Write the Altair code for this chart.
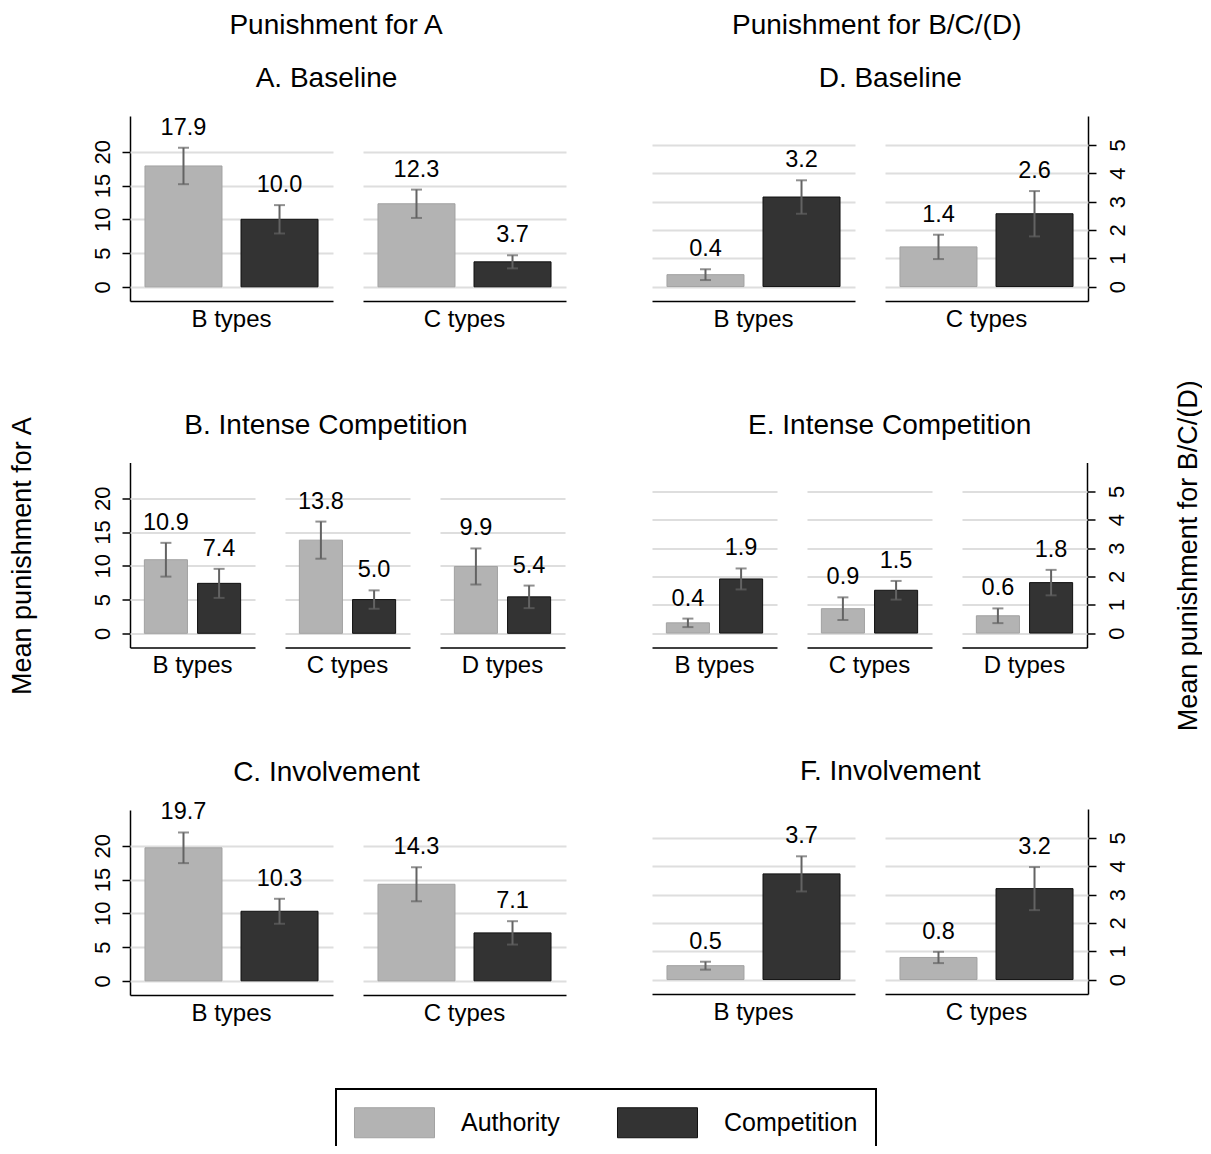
import altair as alt
import pandas as pd

# ---------------- data ----------------
groups = ["Authority", "Competition"]
column_titles = ["Punishment for A", "Punishment for B/C/(D)"]
y_titles = ["Mean punishment for A", "Mean punishment for B/C/(D)"]
panel_ids = ["A", "B", "C", "D", "E", "F"]
panel_titles = ["A. Baseline", "B. Intense Competition", "C. Involvement",
                "D. Baseline", "E. Intense Competition", "F. Involvement"]
panel_types = [["B types", "C types"],
               ["B types", "C types", "D types"],
               ["B types", "C types"],
               ["B types", "C types"],
               ["B types", "C types", "D types"],
               ["B types", "C types"]]
authority_mean = [[17.9, 12.3], [10.9, 13.8, 9.9], [19.7, 14.3],
                  [0.42, 1.40], [0.36, 0.86, 0.61], [0.49, 0.78]]
authority_ci = [[2.7, 2.1], [2.5, 2.75, 2.67], [2.27, 2.52],
                [0.19, 0.43], [0.15, 0.40, 0.26], [0.14, 0.20]]
competition_mean = [[10.0, 3.7], [7.4, 5.0, 5.4], [10.3, 7.1],
                    [3.16, 2.57], [1.91, 1.51, 1.78], [3.73, 3.21]]
competition_ci = [[2.1, 0.97], [2.15, 1.36, 1.67], [1.85, 1.73],
                  [0.59, 0.80], [0.37, 0.33, 0.45], [0.62, 0.76]]
left_ticks = [0, 5, 10, 15, 20]
right_ticks = [0, 1, 2, 3, 4, 5]

rows = []
for i, pid in enumerate(panel_ids):
    for j, t in enumerate(panel_types[i]):
        for g, means, cis in ((groups[0], authority_mean, authority_ci),
                              (groups[1], competition_mean, competition_ci)):
            m = means[i][j]
            c = cis[i][j]
            rows.append(dict(panel=pid, type=t, group=g, mean=m, lo=m - c, hi=m + c))
df = pd.DataFrame(rows)

# ---------------- style ----------------
FONT = "Liberation Sans"
FILLS = ["#b3b3b3", "#333333"]
STROKES = ["#a2a2a2", "#111111"]
ERR = "#636363"
PLOT_H = 185
# title offset per panel (panel C's top value label rises above the plot area)
TITLE_OFFSET = {"A": 1, "B": 1, "C": -8.5, "D": 1, "E": 1, "F": 1}


def make_panel(i):
    pid = panel_ids[i]
    side = "left" if i < 3 else "right"
    ncol = len(panel_types[i])
    cell_w = 203 if ncol == 2 else 125
    p_in, p_out = (0.198, 0.156) if ncol == 2 else (0.19, 0.27)
    dom = [-2.1, 25.3] if side == "left" else [-0.51, 6.02]
    ticks = left_ticks if side == "left" else right_ticks

    xenc = alt.X("group:N", sort=groups, title=None,
                 scale=alt.Scale(domain=groups, paddingInner=p_in, paddingOuter=p_out),
                 axis=alt.Axis(labels=False, ticks=False, grid=False,
                               domainColor="black", domainWidth=1.5))
    yaxis = alt.Axis(orient=side, values=ticks, labelAngle=270, labelFontSize=22,
                     labelColor="black", labelPadding=8 if side == "left" else 11.5,
                     tickSize=8, tickWidth=1.5, tickColor="black",
                     domainColor="black", domainWidth=1.5,
                     grid=True, gridColor="#dedede", gridWidth=2)
    yscale = alt.Scale(domain=dom, nice=False, zero=False)

    def Y(f):
        return alt.Y(f + ":Q", scale=yscale, axis=yaxis, title=None)

    legend = alt.Legend(title=None, orient="none", legendX=206, legendY=973,
                        direction="horizontal",
                        symbolType="M-2.667,-1H2.667V1H-2.667Z", symbolSize=900,
                        symbolOffset=25, labelOffset=51, labelFontSize=25,
                        labelColor="black", columnPadding=55, padding=18,
                        strokeColor="black", symbolStrokeWidth=1)

    bars = alt.Chart().mark_bar(strokeWidth=1).encode(
        x=xenc, y=Y("mean"), y2=alt.datum(0),
        fill=alt.Fill("group:N", sort=groups,
                      scale=alt.Scale(domain=groups, range=FILLS), legend=legend),
        stroke=alt.Stroke("group:N", sort=groups,
                          scale=alt.Scale(domain=groups, range=STROKES), legend=legend),
    )
    rule = alt.Chart().mark_rule(color=ERR, strokeWidth=2).encode(
        x=xenc, y=Y("lo"), y2="hi:Q")
    cap_hi = alt.Chart().mark_tick(color=ERR, thickness=2, size=11).encode(
        x=xenc, y=Y("hi"))
    cap_lo = alt.Chart().mark_tick(color=ERR, thickness=2, size=11).encode(
        x=xenc, y=Y("lo"))
    labels = alt.Chart().mark_text(fontSize=23.5, dy=-20, baseline="middle",
                                   color="black").encode(
        x=xenc, y=Y("hi"), text=alt.Text("mean:Q", format=".1f"))

    layered = alt.layer(bars, rule, cap_hi, cap_lo, labels,
                        data=df[df.panel == pid]).properties(width=cell_w, height=PLOT_H)

    title_dx = -2 if side == "left" else 0
    fac = layered.facet(
        column=alt.Column("type:N", title=None, sort=panel_types[i],
                          header=alt.Header(labelOrient="bottom", labelFontSize=24,
                                            labelPadding=6.5, labelBaseline="top",
                                            labelColor="black")),
        spacing=30,
    ).properties(title=alt.TitleParams(panel_titles[i], fontSize=28, fontWeight="normal",
                                       anchor="middle", frame="bounds",
                                       offset=TITLE_OFFSET[pid],
                                       baseline="alphabetic", dx=title_dx, color="black"))
    return fac


left_col = alt.vconcat(make_panel(0), make_panel(1), make_panel(2), spacing=79.5,
                       title=alt.TitleParams(y_titles[0], orient="left", anchor="middle",
                                             frame="bounds", fontSize=27,
                                             fontWeight="normal", baseline="bottom",
                                             offset=27, dx=-11, color="black"))
right_col = alt.vconcat(make_panel(3), make_panel(4), make_panel(5), spacing=79.5,
                        title=alt.TitleParams(y_titles[1], orient="right", anchor="middle",
                                              frame="bounds", fontSize=27, angle=270,
                                              fontWeight="normal", baseline="top",
                                              offset=20, dx=-11, color="black"))

left_wrap = alt.hconcat(left_col, title=alt.TitleParams(
    column_titles[0], fontSize=28, fontWeight="normal", anchor="middle", frame="bounds",
    offset=3, baseline="alphabetic", dx=48.5, color="black"))
right_wrap = alt.hconcat(right_col, title=alt.TitleParams(
    column_titles[1], fontSize=28, fontWeight="normal", anchor="middle", frame="bounds",
    offset=3, baseline="alphabetic", dx=-50, color="black"))

chart = alt.hconcat(left_wrap, right_wrap, spacing=86).properties(
    padding={"top": 3, "bottom": -13, "left": 0, "right": 0}, background="white"
).configure(font=FONT).configure_view(stroke=None).configure_legend(strokeWidth=2)

chart.save("out.html", embed_options={"renderer": "svg", "actions": False})
